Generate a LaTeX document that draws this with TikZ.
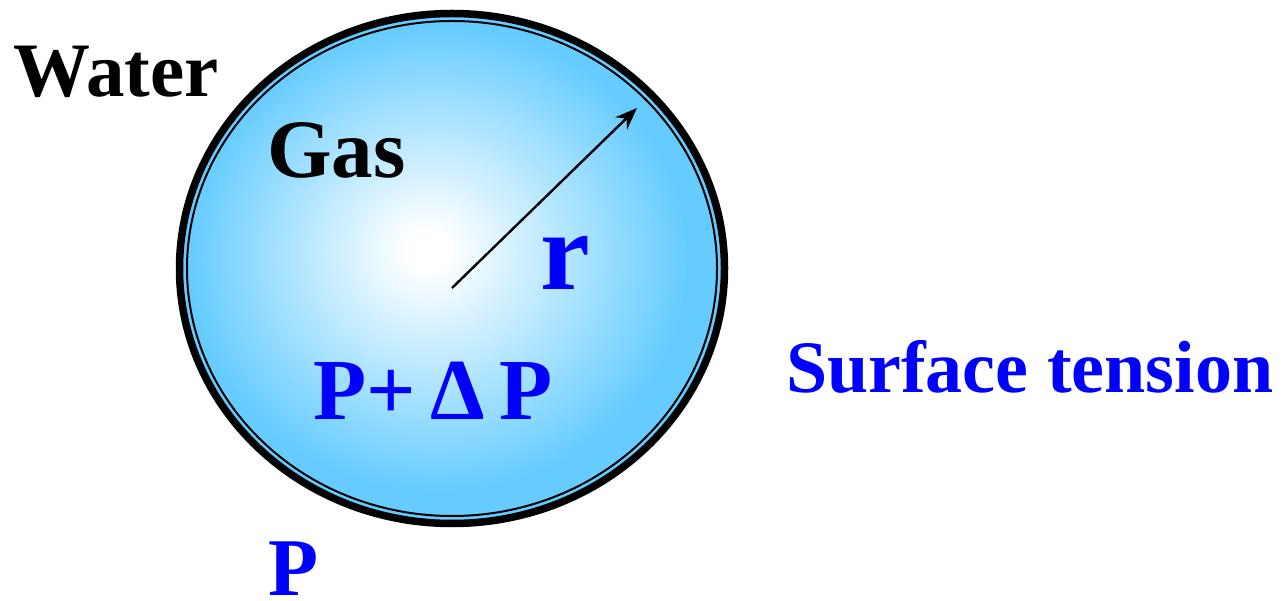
\documentclass[tikz,border=0pt]{standalone}
\usepackage{fontspec}
\setmainfont{Liberation Serif}
\usepackage{tikz}
\usetikzlibrary{arrows.meta, positioning}
\definecolor{bubbleblue}{HTML}{66CCFF}
\definecolor{labelblue}{HTML}{0000FF}
\pgfdeclareradialshading{bubbleshade}{\pgfpoint{-2.5bp}{2bp}}{%
  color(0bp)=(white); color(2bp)=(white); color(23.5bp)=(bubbleblue); color(50bp)=(bubbleblue)}

\begin{document}
\begin{tikzpicture}[
    x=1pt, y=-1pt,
    lbl/.style={inner sep=0pt, anchor=base west, font=\fontsize{#1}{#1}\selectfont\bfseries},
]
\useasboundingbox (0,0) rectangle (1283,601);
% bubble
\coordinate (ctr) at (452,268.5);
\fill[bubbleblue] (ctr) ellipse [x radius=272.5pt, y radius=255pt];
\draw[line width=7.5pt] (ctr) ellipse [x radius=272.5pt, y radius=255pt];
\shade[shading=bubbleshade, draw=black, line width=2pt] (ctr) ellipse [x radius=265pt, y radius=247.5pt];
% radius
\coordinate (rstart) at (452,288);
\coordinate (rend) at (637,108);
\draw[line width=2.4pt, -{Stealth[length=22pt, width=17pt]}] (rstart) -- (rend);
% labels
\node[lbl=77] (water) at (13.5,97) {Water};
\node[lbl=83] (gas) at (267,178) {Gas};
\node[lbl=112, text=labelblue] (rlbl) at (540,290) {r};
\node[lbl=87, text=labelblue] (inside) at (313.5,420) {P+\,Δ\,P};
\node[lbl=74, text=labelblue] (tension) at (786,393) {Surface tension};
\node[lbl=82, text=labelblue] (outside) at (268.5,595) {P};
\end{tikzpicture}
\end{document}
